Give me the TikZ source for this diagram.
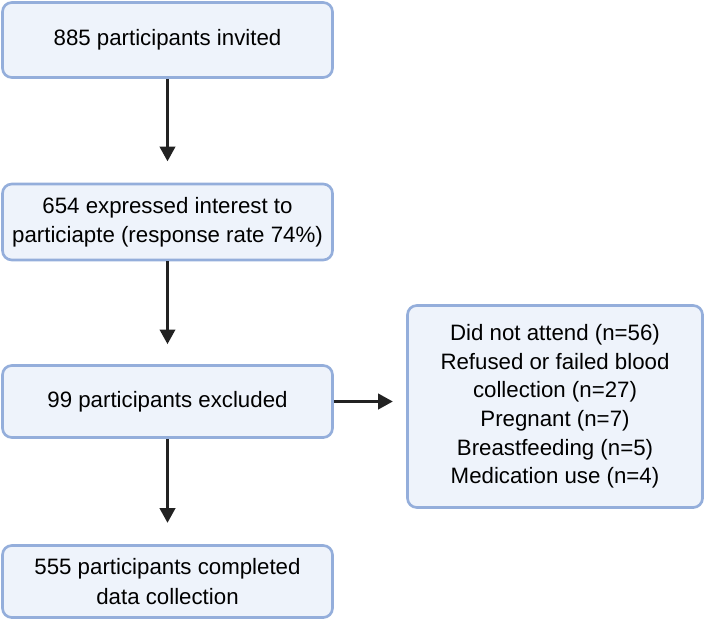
\documentclass[tikz,border=0pt]{standalone}
\usepackage{fontspec}
\setmainfont{Liberation Sans}
\usetikzlibrary{arrows.meta}
\definecolor{boxfill}{HTML}{EEF3FB}
\definecolor{boxline}{HTML}{94AEDB}
\definecolor{arrowc}{HTML}{222222}
\begin{document}
\begin{tikzpicture}[x=0.75pt,y=-0.75pt,
  flowbox/.style={draw=boxline,fill=boxfill,line width=2pt,rounded corners=7pt,
    align=center,inner sep=0pt,font=\fontsize{16.7pt}{22pt}\selectfont,text=black},
  conn/.style={draw=arrowc,line width=2.1pt,-{Triangle[width=11.5pt,length=11pt]}}]
\useasboundingbox (0,0) rectangle (706,621);
\node[flowbox,minimum width=330*0.75pt,minimum height=75*0.75pt] (a) at (167.5,40) {885 participants invited};
\node[flowbox,minimum width=330*0.75pt,minimum height=76*0.75pt] (b) at (167.5,222) {654 expressed interest to\\particiapte (response rate 74\%)};
\node[flowbox,minimum width=330*0.75pt,minimum height=72*0.75pt] (c) at (167.5,401.5) {99 participants excluded};
\node[flowbox,minimum width=330*0.75pt,minimum height=72*0.75pt] (d) at (167.5,581.5) {555 participants completed\\data collection};
\node[flowbox,font=\fontsize{16.7pt}{21.5pt}\selectfont,minimum width=295*0.75pt,minimum height=202*0.75pt] (e) at (555,406.5) {Did not attend (n=56)\\Refused or failed blood\\collection (n=27)\\Pregnant (n=7)\\Breastfeeding (n=5)\\Medication use (n=4)};
\draw[conn,shorten >=16pt] (a.south) -- (b.north);
\draw[conn,shorten >=15pt] (b.south) -- (c.north);
\draw[conn,shorten >=16pt] (c.south) -- (d.north);
\draw[conn,shorten >=10pt] (c.east) -- (c.east -| e.west);
\end{tikzpicture}
\end{document}
